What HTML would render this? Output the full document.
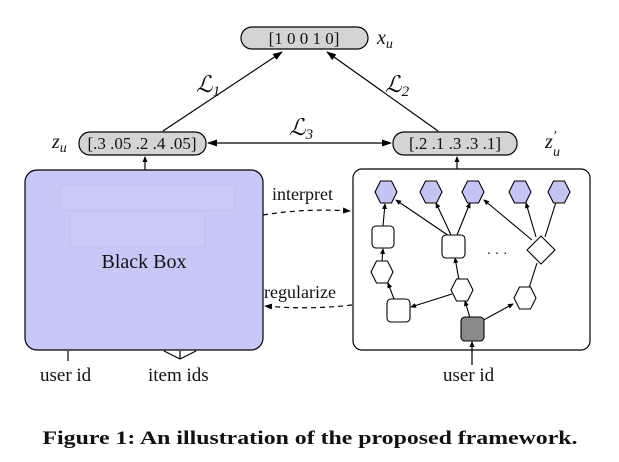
<!DOCTYPE html>
<html><head><meta charset="utf-8"><style>
html,body{margin:0;padding:0;background:#fff;}
svg{display:block;font-family:'Liberation Serif','Times New Roman',Times,serif;}
svg text{font-family:'Liberation Serif','Times New Roman',Times,serif;fill:#111;}
</style></head><body>
<svg width="619" height="462" viewBox="0 0 619 462" xmlns="http://www.w3.org/2000/svg" font-family="Liberation Serif, Times New Roman, serif">
<defs>
<marker id="a" markerWidth="8" markerHeight="8" refX="7" refY="4" orient="auto" markerUnits="userSpaceOnUse"><path d="M0,1 L8,4 L0,7 z" fill="#000"/></marker>
<marker id="as" markerWidth="6" markerHeight="6" refX="5" refY="3" orient="auto-start-reverse" markerUnits="userSpaceOnUse"><path d="M0,0.5 L6,3 L0,5.5 z" fill="#000"/></marker>
<marker id="ab" markerWidth="10" markerHeight="8" refX="9" refY="4" orient="auto-start-reverse" markerUnits="userSpaceOnUse"><path d="M0,0.5 L10,4 L0,7.5 z" fill="#000"/></marker>
</defs>
<rect x="241" y="27" width="127" height="22" rx="11" fill="#d4d4d4" stroke="#000" stroke-width="1.2"/>
<text x="304" y="44" font-size="17" text-anchor="middle">[1 0 0 1 0]</text>
<text x="377" y="44" font-size="20" font-style="italic">x<tspan font-size="14" dy="4">u</tspan></text>
<rect x="79" y="132" width="127" height="23" rx="11" fill="#d4d4d4" stroke="#000" stroke-width="1.2"/>
<text x="142" y="149" font-size="17" text-anchor="middle">[.3 .05 .2 .4 .05]</text>
<text x="52" y="148" font-size="20" font-style="italic">z<tspan font-size="14" dy="4">u</tspan></text>
<rect x="393" y="132" width="124" height="23" rx="11" fill="#d4d4d4" stroke="#000" stroke-width="1.2"/>
<text x="455" y="149" font-size="17" text-anchor="middle">[.2 .1 .3 .3 .1]</text>
<text x="545" y="148" font-size="20" font-style="italic">z</text>
<text x="554" y="140" font-size="14">′</text>
<text x="553" y="156" font-size="14" font-style="italic">u</text>
<line x1="163" y1="131" x2="282" y2="52" stroke="#000" stroke-width="1.2" marker-end="url(#ab)"/>
<line x1="438" y1="131" x2="327" y2="52" stroke="#000" stroke-width="1.2" marker-end="url(#ab)"/>
<line x1="208" y1="143" x2="391" y2="143" stroke="#000" stroke-width="1.2" marker-start="url(#ab)" marker-end="url(#ab)"/>
<text x="196" y="92" font-size="23" font-style="italic">ℒ<tspan font-size="15" dy="4">1</tspan></text>
<text x="385" y="92" font-size="23" font-style="italic">ℒ<tspan font-size="15" dy="4">2</tspan></text>
<text x="289" y="135" font-size="23" font-style="italic">ℒ<tspan font-size="15" dy="4">3</tspan></text>
<rect x="25" y="170" width="238" height="180" rx="12" fill="#c8c8f8" stroke="#000" stroke-width="1.2"/>
<rect x="60" y="185" width="175" height="25" fill="#cacaf7" stroke="#c0c0ee" stroke-width="1"/>
<rect x="70" y="212" width="135" height="35" fill="#cacaf7" stroke="#c0c0ee" stroke-width="1"/>
<text x="144" y="268" font-size="20" text-anchor="middle">Black Box</text>
<line x1="145" y1="170" x2="145" y2="157" stroke="#000" stroke-width="1.2" marker-end="url(#as)"/>
<line x1="68" y1="351" x2="68" y2="361" stroke="#000" stroke-width="1.2"/>
<polyline points="164,351 180,359 196,351" fill="none" stroke="#000" stroke-width="1.2"/>
<line x1="180" y1="351" x2="180" y2="359" stroke="#000" stroke-width="1.2"/>
<text x="40" y="381" font-size="19">user id</text>
<text x="148" y="381" font-size="19">item ids</text>
<path d="M263,215 Q306,208 350,211" fill="none" stroke="#000" stroke-width="1.2" stroke-dasharray="5,4" marker-end="url(#a)"/>
<path d="M352,305 Q308,310 265,306" fill="none" stroke="#000" stroke-width="1.2" stroke-dasharray="5,4" marker-end="url(#a)"/>
<text x="272" y="200" font-size="18">interpret</text>
<text x="264" y="298" font-size="18">regularize</text>
<rect x="353" y="169" width="237" height="181" rx="9" fill="#fff" stroke="#000" stroke-width="1.2"/>
<line x1="457" y1="169" x2="457" y2="157" stroke="#000" stroke-width="1.2" marker-end="url(#as)"/>
<line x1="472" y1="365" x2="472" y2="342" stroke="#000" stroke-width="1.2" marker-end="url(#as)"/>
<text x="443" y="381" font-size="19">user id</text>
<g stroke="#000" stroke-width="1.1" fill="none">
<line x1="383" y1="226" x2="385" y2="204" marker-end="url(#as)"/>
<line x1="382" y1="261" x2="383" y2="249" marker-end="url(#as)"/>
<line x1="394" y1="299" x2="388" y2="283" marker-end="url(#as)"/>
<line x1="449" y1="236" x2="396" y2="200" marker-end="url(#as)"/>
<line x1="451" y1="235" x2="436" y2="203" marker-end="url(#as)"/>
<line x1="457" y1="235" x2="470" y2="203" marker-end="url(#as)"/>
<line x1="459" y1="280" x2="455" y2="258" marker-end="url(#as)"/>
<line x1="452" y1="294" x2="411" y2="307" marker-end="url(#as)"/>
<line x1="470" y1="318" x2="465" y2="301" marker-end="url(#as)"/>
<line x1="480" y1="322" x2="513" y2="304" marker-end="url(#as)"/>
<line x1="532" y1="240" x2="484" y2="200" marker-end="url(#as)"/>
<line x1="536" y1="237" x2="526" y2="203" marker-end="url(#as)"/>
<line x1="545" y1="237" x2="556" y2="202"/>
<line x1="529" y1="288" x2="537" y2="263"/>
</g>
<g stroke="#000" stroke-width="1.1" fill="#c4c4f4">
<polygon points="375,192 380.5,181 391.5,181 397,192 391.5,203 380.5,203"/>
<polygon points="420,192 425.5,181 436.5,181 442,192 436.5,203 425.5,203"/>
<polygon points="462,192 467.5,181 478.5,181 484,192 478.5,203 467.5,203"/>
<polygon points="509,192 514.5,181 525.5,181 531,192 525.5,203 514.5,203"/>
<polygon points="548,192 553.5,181 564.5,181 570,192 564.5,203 553.5,203"/>
</g>
<g stroke="#000" stroke-width="1.1" fill="#fff">
<rect x="372" y="226" width="22" height="22" rx="4"/>
<polygon points="371,272 376.5,261 387.5,261 393,272 387.5,283 376.5,283"/>
<rect x="387" y="299" width="23" height="23" rx="4"/>
<rect x="442" y="235" width="23" height="23" rx="4"/>
<polygon points="451,290 456.5,279 467.5,279 473,290 467.5,301 456.5,301"/>
<polygon points="514,298 519.5,287 530.5,287 536,298 530.5,309 519.5,309"/>
<polygon points="541,236 555,250 541,264 527,250"/>
</g>
<rect x="461" y="317" width="23" height="24" rx="4" fill="#8a8a8a" stroke="#000" stroke-width="1.1"/>
<text x="497" y="258" font-size="14" text-anchor="middle">· · ·</text>
<text x="310" y="444" font-size="19" font-weight="bold" text-anchor="middle" textLength="535" lengthAdjust="spacingAndGlyphs">Figure 1: An illustration of the proposed framework.</text>
</svg>
</body></html>
